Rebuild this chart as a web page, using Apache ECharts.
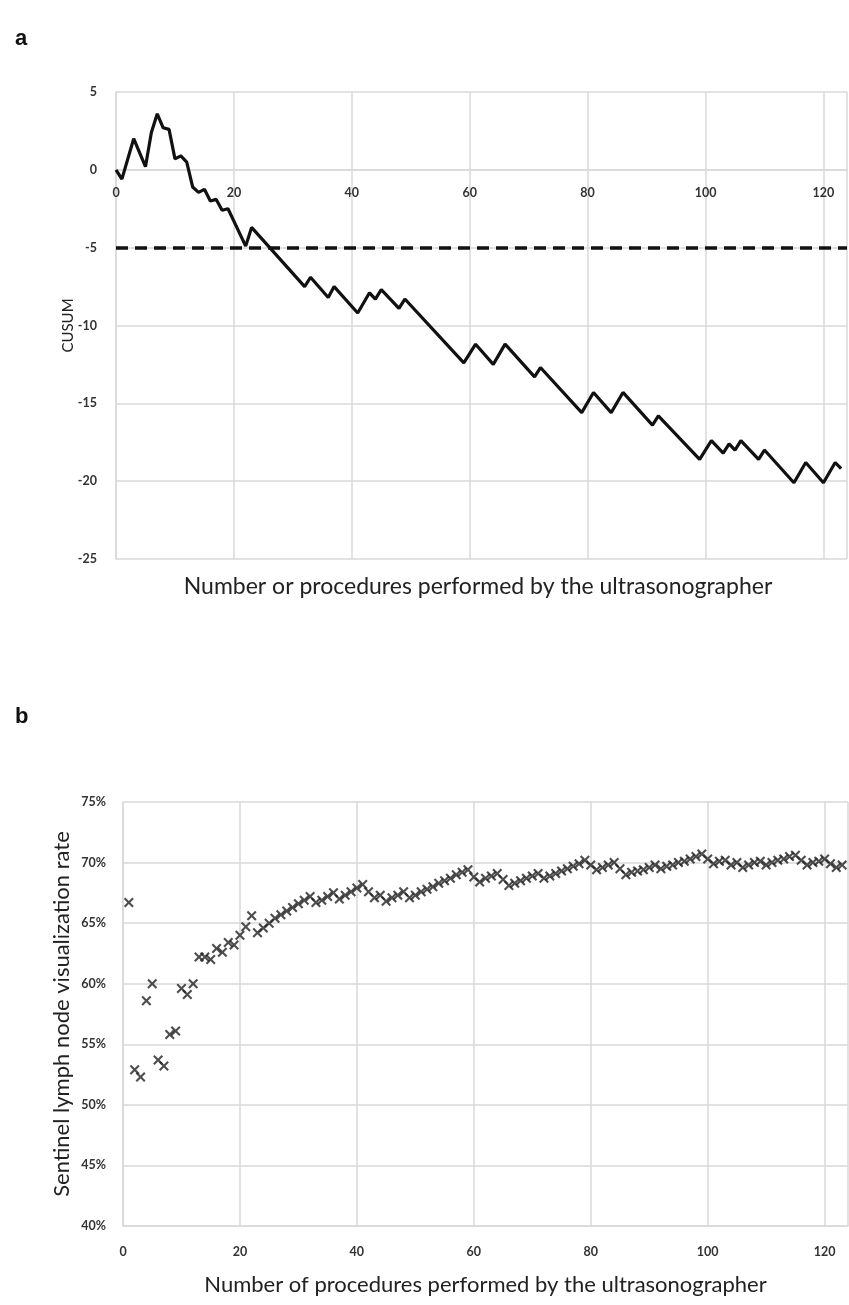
<!DOCTYPE html>
<html>
<head>
<meta charset="utf-8">
<script src="https://cdn.jsdelivr.net/npm/echarts@6/dist/echarts.min.js"></script>
<style>
html, body { margin: 0; padding: 0; background: #fff; }
#chart { width: 849px; height: 1305px; }
</style>
</head>
<body>
<div id="chart"></div>
<script>
// panel a: CUSUM turning points (procedure number, CUSUM value)
var cusumX = [0, 1, 3, 5, 6, 7, 8, 9, 10, 11, 12, 13, 14, 15, 16, 17, 18, 19, 22, 23,
    32, 33, 36, 37, 41, 43, 44, 45, 48, 49, 59, 61, 64, 66, 71, 72, 79, 81, 84, 86,
    91, 92, 99, 101, 103, 104, 105, 106, 109, 110, 115, 117, 120, 122, 123];
var cusumY = [0, -0.6, 2.0, 0.2, 2.4, 3.6, 2.7, 2.6, 0.7, 0.9, 0.5, -1.1, -1.45, -1.25, -2.0, -1.9, -2.6, -2.5, -4.9, -3.7,
    -7.5, -6.9, -8.2, -7.5, -9.2, -7.9, -8.3, -7.7, -8.9, -8.3, -12.4, -11.2, -12.5, -11.2, -13.3, -12.7, -15.6, -14.3, -15.6, -14.3,
    -16.4, -15.8, -18.6, -17.4, -18.2, -17.6, -18.0, -17.4, -18.6, -18.0, -20.1, -18.8, -20.1, -18.8, -19.2];
var cusumLimit = -5;

// panel b: visualization rate (%) for procedures 1..123
var rateValues = [
    66.7, 52.9, 52.3, 58.6, 60.0, 53.7, 53.2, 55.8, 56.1, 59.6,
    59.1, 60.0, 62.2, 62.2, 62.0, 62.9, 62.6, 63.4, 63.2, 64.0,
    64.7, 65.6, 64.2, 64.6, 65.0, 65.4, 65.7, 66.0, 66.3, 66.6,
    66.9, 67.2, 66.7, 66.9, 67.2, 67.5, 67.0, 67.3, 67.6, 67.9,
    68.2, 67.6, 67.1, 67.3, 66.8, 67.1, 67.3, 67.6, 67.1, 67.3,
    67.6, 67.8, 68.0, 68.3, 68.5, 68.7, 69.0, 69.2, 69.4, 68.8,
    68.4, 68.7, 68.9, 69.1, 68.6, 68.1, 68.3, 68.5, 68.7, 68.9,
    69.1, 68.7, 68.9, 69.1, 69.3, 69.5, 69.7, 69.9, 70.2, 69.8,
    69.4, 69.6, 69.8, 70.0, 69.5, 69.0, 69.2, 69.3, 69.4, 69.6,
    69.8, 69.5, 69.7, 69.8, 70.0, 70.1, 70.3, 70.5, 70.7, 70.3,
    69.9, 70.1, 70.2, 69.8, 70.0, 69.6, 69.8, 70.0, 70.1, 69.8,
    70.0, 70.2, 70.3, 70.5, 70.6, 70.2, 69.8, 70.0, 70.1, 70.3,
    69.9, 69.6, 69.8
];

var xTicks = [0, 20, 40, 60, 80, 100, 120];

var gridColor = '#d9d9d9';
var labelFont = { fontFamily: 'Lato', fontSize: 12.5, fontWeight: 'bold', color: '#333' };

var cusumData = cusumX.map(function (x, i) { return [x, cusumY[i]]; });
var rateData = rateValues.map(function (v, i) { return [i + 1, v]; });

function xLabel(v) {
    return xTicks.indexOf(v) >= 0 ? String(v) : '';
}

var chart = echarts.init(document.getElementById('chart'));
var option = {
    backgroundColor: '#fff',
    animation: false,
    graphic: [
        { type: 'text', x: 15, y: 28, style: { text: 'a', font: 'bold 22px "Liberation Sans"', fill: '#111' } },
        { type: 'text', x: 15, y: 706, style: { text: 'b', font: 'bold 22px "Liberation Sans"', fill: '#111' } },
        { type: 'text', x: 478, y: 587, style: { text: 'Number or procedures performed by the ultrasonographer',
            font: '23px Lato', fill: '#222', align: 'center', verticalAlign: 'middle' } }
    ],
    grid: [
        { left: 116, top: 92, right: 2, bottom: 746 },
        { left: 123, top: 802, right: 1, bottom: 79 }
    ],
    xAxis: [{
        gridIndex: 0,
        type: 'value',
        min: 0,
        max: 124,
        interval: 20,
        // axis sits on the zero line like in the original
        offset: -389,
        axisLine: { show: true, onZero: false, lineStyle: { color: gridColor, width: 1.5 } },
        axisTick: { show: false },
        axisLabel: Object.assign({ margin: 16, formatter: xLabel, showMaxLabel: false }, labelFont),
        splitLine: { show: true, lineStyle: { color: gridColor, width: 1.5 } }
    }, {
        gridIndex: 1,
        type: 'value',
        min: 0,
        max: 124,
        interval: 20,
        name: 'Number of procedures performed by the ultrasonographer',
        nameLocation: 'middle',
        nameGap: 48,
        nameMoveOverlap: false,
        nameTextStyle: { fontFamily: 'Lato', fontSize: 22, color: '#222' },
        axisLine: { show: true, lineStyle: { color: gridColor, width: 1.5 } },
        axisTick: { show: false },
        axisLabel: Object.assign({ margin: 19, formatter: xLabel, showMaxLabel: false }, labelFont),
        splitLine: { show: true, lineStyle: { color: gridColor, width: 1.5 } }
    }],
    yAxis: [{
        gridIndex: 0,
        type: 'value',
        min: -25,
        max: 5,
        interval: 5,
        name: 'CUSUM',
        nameLocation: 'middle',
        nameRotate: 90,
        nameGap: 40,
        nameMoveOverlap: false,
        nameTextStyle: { fontFamily: 'Lato', fontSize: 15, color: '#222' },
        axisLine: { show: true, lineStyle: { color: gridColor, width: 1.5 } },
        axisTick: { show: false },
        axisLabel: Object.assign({ margin: 19 }, labelFont),
        splitLine: { show: true, lineStyle: { color: gridColor, width: 1.5 } }
    }, {
        gridIndex: 1,
        type: 'value',
        min: 40,
        max: 75,
        interval: 5,
        name: 'Sentinel lymph node visualization rate',
        nameLocation: 'middle',
        nameRotate: 90,
        nameGap: 50,
        nameMoveOverlap: false,
        nameTextStyle: { fontFamily: 'Lato', fontSize: 22, color: '#222' },
        axisLine: { show: true, lineStyle: { color: gridColor, width: 1.5 } },
        axisTick: { show: false },
        axisLabel: Object.assign({ margin: 17, formatter: '{value}%' }, labelFont),
        splitLine: { show: true, lineStyle: { color: gridColor, width: 1.5 } }
    }],
    series: [{
        type: 'line',
        xAxisIndex: 0,
        yAxisIndex: 0,
        data: cusumData,
        showSymbol: false,
        lineStyle: { color: '#111', width: 3.2 },
        markLine: {
            silent: true,
            symbol: ['none', 'none'],
            label: { show: false },
            lineStyle: { color: '#111', width: 3.5, type: [12, 7] },
            data: [{ yAxis: cusumLimit }]
        }
    }, {
        type: 'scatter',
        xAxisIndex: 1,
        yAxisIndex: 1,
        data: rateData,
        symbol: 'path://M0,1.5L1.5,0L5,3.5L8.5,0L10,1.5L6.5,5L10,8.5L8.5,10L5,6.5L1.5,10L0,8.5L3.5,5Z',
        symbolSize: 10,
        itemStyle: { color: '#222' }
    }]
};
chart.setOption(option);
</script>
</body>
</html>
